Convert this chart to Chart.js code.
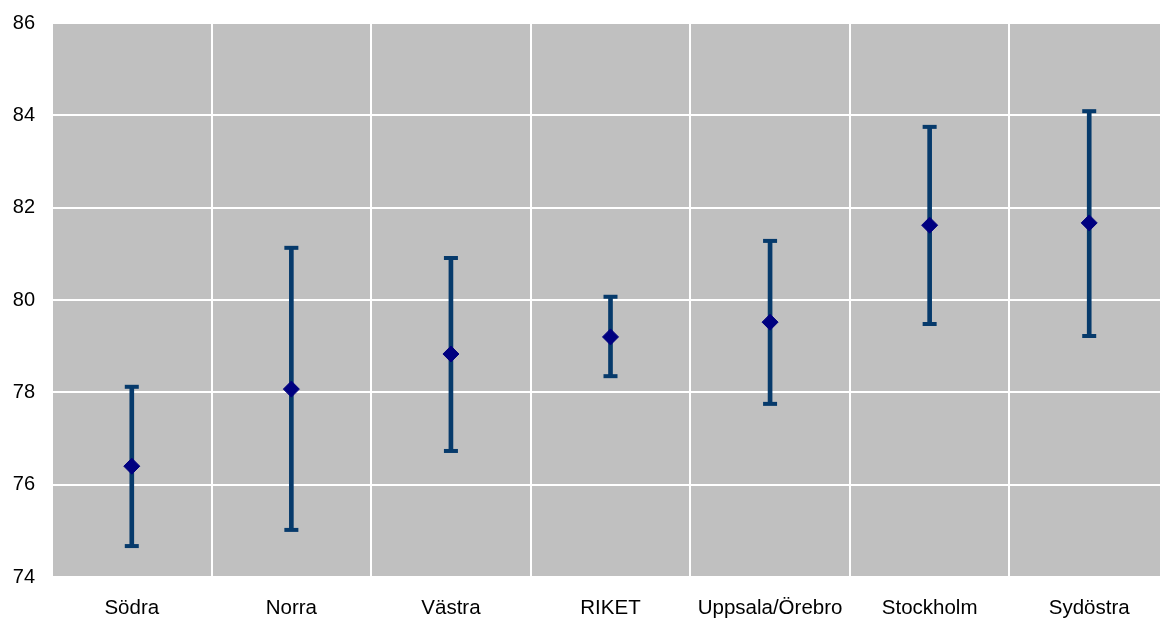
<!DOCTYPE html>
<html>
<head>
<meta charset="utf-8">
<script src="https://cdn.jsdelivr.net/npm/chart.js@4"></script>
<style>
  html, body { margin: 0; padding: 0; background: #fff; overflow: hidden; }
  #wrap { width: 1180px; height: 619px; }
</style>
</head>
<body>
<div id="wrap"><canvas id="chart" width="1180" height="619"></canvas></div>
<script>
const regions = ["Södra", "Norra", "Västra", "RIKET", "Uppsala/Örebro", "Stockholm", "Sydöstra"];
const means = [76.40, 78.07, 78.83, 79.20, 79.52, 81.62, 81.67];
const lower = [74.67, 75.02, 76.73, 78.35, 77.75, 79.48, 79.22];
const upper = [78.12, 81.13, 80.91, 80.07, 81.28, 83.75, 84.09];
const yTicks = [74, 76, 78, 80, 82, 84, 86];

const barColor = "#063a6b";
const markColor = "#000080";

// grey plot background
const plotBg = {
  id: "plotBg",
  beforeDraw(chart) {
    const a = chart.chartArea;
    const ctx = chart.ctx;
    ctx.save();
    ctx.fillStyle = "#c0c0c0";
    ctx.fillRect(a.left, a.top, a.right - a.left, a.bottom - a.top);
    ctx.restore();
  }
};

new Chart(document.getElementById("chart"), {
  type: "bar",
  data: {
    labels: regions,
    datasets: [
      {
        label: "interval",
        data: regions.map((_, i) => [lower[i], upper[i]]),
        backgroundColor: barColor,
        barThickness: 4,
        order: 3
      },
      {
        type: "line",
        label: "upper",
        data: upper,
        showLine: false,
        pointStyle: "line",
        pointRadius: 7,
        pointBorderWidth: 4,
        pointBorderColor: barColor,
        order: 2
      },
      {
        type: "line",
        label: "lower",
        data: lower,
        showLine: false,
        pointStyle: "line",
        pointRadius: 7,
        pointBorderWidth: 4,
        pointBorderColor: barColor,
        order: 2
      },
      {
        type: "line",
        label: "mean",
        data: means,
        showLine: false,
        pointStyle: "rectRot",
        pointRadius: 8,
        pointBackgroundColor: markColor,
        pointBorderColor: markColor,
        pointBorderWidth: 1,
        order: 1
      }
    ]
  },
  options: {
    responsive: false,
    animation: false,
    layout: { padding: { top: 23, right: 7, left: 0, bottom: 0 } },
    plugins: {
      legend: { display: false },
      tooltip: { enabled: false }
    },
    scales: {
      x: {
        grid: { color: "#ffffff", lineWidth: 2, drawTicks: false, offset: true },
        border: { display: false },
        ticks: {
          color: "#000",
          padding: 19,
          font: { family: "Liberation Sans, Arial", size: 20.5 }
        },
        afterFit(scale) {
          scale.height = 42;
          scale.paddingLeft = 0;
          scale.paddingRight = 0;
        }
      },
      y: {
        min: 74,
        max: 86,
        grid: { color: "#ffffff", lineWidth: 2, drawTicks: false },
        border: { display: false },
        afterBuildTicks(scale) { scale.ticks = yTicks.map(v => ({ value: v })); },
        ticks: {
          color: "#000",
          padding: 17,
          font: { family: "Liberation Sans, Arial", size: 20 }
        },
        afterFit(scale) {
          scale.width = 52;
          scale.paddingTop = 0;
          scale.paddingBottom = 0;
        }
      }
    }
  },
  plugins: [plotBg]
});
</script>
</body>
</html>
